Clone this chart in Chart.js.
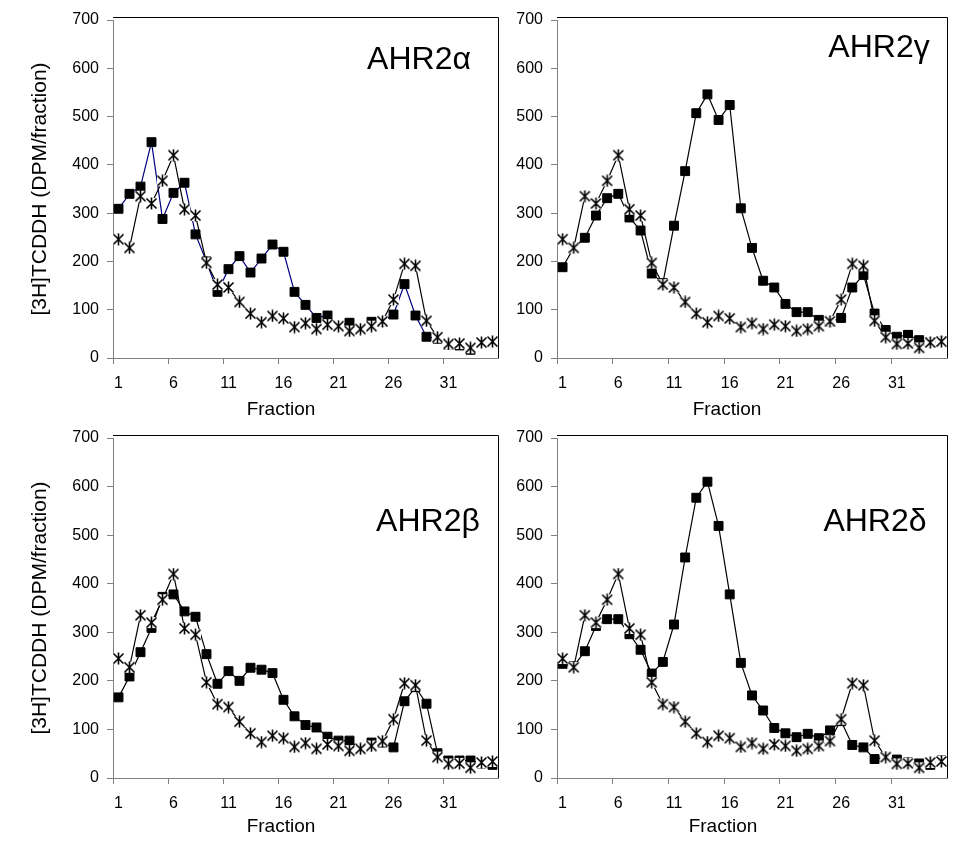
<!DOCTYPE html>
<html>
<head>
<meta charset="utf-8">
<script src="https://cdn.jsdelivr.net/npm/chart.js@4.4.1/dist/chart.umd.min.js"></script>
<style>
  html, body { margin: 0; padding: 0; background: #fff; }
  #page { position: relative; width: 960px; height: 853px; overflow: hidden; font-family: 'Liberation Sans', Arial, sans-serif; }
  canvas { position: absolute; }
  .lbl { position: absolute; transform: translate(-50%, -50%); white-space: nowrap; color: #000; }
  .panel { font-size: 32px; }
  .xt { font-size: 19px; }
</style>
</head>
<body>
<div id="page">
  <canvas id="cA" width="520" height="430" style="left:0;top:0"></canvas>
  <canvas id="cG" width="480" height="430" style="left:480px;top:0"></canvas>
  <canvas id="cB" width="520" height="430" style="left:0;top:420px"></canvas>
  <canvas id="cD" width="480" height="430" style="left:480px;top:420px"></canvas>

  <div class="lbl panel" style="left:419px;top:58px">AHR2α</div>
  <div class="lbl panel" style="left:879px;top:46px">AHR2γ</div>
  <div class="lbl panel" style="left:428px;top:520px">AHR2β</div>
  <div class="lbl panel" style="left:875px;top:520px">AHR2δ</div>

  <div class="lbl xt" style="left:281px;top:409px">Fraction</div>
  <div class="lbl xt" style="left:727px;top:409px">Fraction</div>
  <div class="lbl xt" style="left:281px;top:826px">Fraction</div>
  <div class="lbl xt" style="left:723px;top:826px">Fraction</div>
</div>
<script>
// fractions 1..35
const fractions = ['1','2','3','4','5','6','7','8','9','10','11','12','13','14','15','16','17','18',
  '19','20','21','22','23','24','25','26','27','28','29','30','31','32','33','34','35'];
const yTicks = [0, 100, 200, 300, 400, 500, 600, 700];

// asterisk series, same in every panel
const controlDPM = [246, 228, 335, 320, 367, 420, 308, 295, 197, 152, 146, 116, 92, 74, 87, 82, 64, 72,
  60, 69, 66, 56, 60, 66, 76, 121, 195, 191, 77, 43, 29, 30, 21, 32, 34];

// square series per isoform
const ahr2a = [309, 340, 355, 447, 288, 342, 363, 256, 200, 137, 184, 211, 177, 206, 235, 220, 137, 110,
  83, 88, 66, 73, 60, 75, 75, 90, 153, 88, 44, 40, 28, 26, 17, 31, 33];
const ahr2g = [188, 228, 249, 295, 331, 340, 291, 264, 175, 155, 274, 387, 507, 546, 493, 524, 310, 228,
  160, 146, 112, 95, 95, 79, 75, 83, 146, 172, 92, 58, 44, 48, 37, 33, 35];
const ahr2b = [166, 209, 259, 309, 373, 378, 343, 332, 255, 194, 220, 200, 227, 223, 216, 161, 127, 109,
  104, 85, 77, 77, 60, 73, 73, 63, 158, 187, 153, 51, 36, 36, 36, 30, 27];
const ahr2d = [235, 230, 261, 313, 327, 327, 296, 264, 215, 239, 316, 454, 577, 610, 519, 378, 237, 170,
  139, 103, 92, 84, 91, 82, 98, 117, 68, 63, 39, 43, 38, 32, 30, 27, 36];

const FONT = "'Liberation Sans', Arial, sans-serif";
const AXIS = '#808080';

// excel-like asterisk marker: white box with X and a vertical bar
function makeAsterisk() {
  const c = document.createElement('canvas');
  c.width = 13; c.height = 13;
  const g = c.getContext('2d');
  g.fillStyle = '#fff';
  g.fillRect(1, 1, 11, 11);
  g.strokeStyle = '#000';
  g.lineWidth = 1.6;
  g.beginPath();
  g.moveTo(1.5, 1.5); g.lineTo(11.5, 11.5);
  g.moveTo(11.5, 1.5); g.lineTo(1.5, 11.5);
  g.moveTo(6.5, 0.5); g.lineTo(6.5, 12.5);
  g.stroke();
  return c;
}
const asterisk = makeAsterisk();

// top and right border of the plot area
const framePlugin = {
  id: 'frame',
  afterDraw(chart) {
    const { ctx, chartArea: a } = chart;
    ctx.save();
    ctx.strokeStyle = '#000';
    ctx.lineWidth = 1;
    ctx.beginPath();
    ctx.moveTo(a.left, a.top - 2.5);
    ctx.lineTo(Math.round(a.right) + 0.5, a.top - 2.5);
    ctx.lineTo(Math.round(a.right) + 0.5, a.bottom);
    ctx.stroke();
    ctx.restore();
  }
};

function makePanel(id, squares, lineColor, yWidth, yTitle, pad) {
  new Chart(document.getElementById(id), {
    type: 'line',
    data: {
      labels: fractions,
      datasets: [
        {
          data: controlDPM, borderColor: '#000', borderWidth: 1.2,
          pointStyle: asterisk, pointRadius: 6, pointHoverRadius: 6, tension: 0
        },
        {
          data: squares, borderColor: lineColor, borderWidth: 1.2,
          pointStyle: 'rect', pointRadius: 6.3, pointHoverRadius: 6.3,
          pointBackgroundColor: '#000', pointBorderColor: '#000', pointBorderWidth: 1, tension: 0
        }
      ]
    },
    options: {
      responsive: false, animation: false, devicePixelRatio: 1,
      layout: { padding: pad },
      plugins: { legend: { display: false }, tooltip: { enabled: false } },
      scales: {
        x: {
          type: 'category', offset: true,
          grid: {
            offset: true, drawOnChartArea: false, tickLength: 6,
            color: c => (c.index % 5 === 0 && c.index < 35 ? AXIS : 'rgba(0,0,0,0)')
          },
          border: { color: AXIS, width: 1 },
          ticks: {
            autoSkip: false, maxRotation: 0, minRotation: 0, padding: 10, color: '#000',
            font: { family: FONT, size: 16 },
            callback: (v, i) => (i % 5 === 0 ? fractions[i] : '')
          },
          afterFit: s => { s.height = 72; }
        },
        y: {
          min: 0, max: 700,
          afterBuildTicks: s => { s.ticks = yTicks.map(v => ({ value: v })); },
          grid: { drawOnChartArea: false, tickLength: 6, color: AXIS },
          border: { color: AXIS, width: 1 },
          ticks: { padding: 8, color: '#000', font: { family: FONT, size: 16 } },
          title: {
            display: !!yTitle, text: yTitle, color: '#000',
            font: { family: FONT, size: 21 }, padding: { top: 28, bottom: 0 }
          },
          afterFit: s => { s.width = yWidth; }
        }
      }
    },
    plugins: [framePlugin]
  });
}

const Y_TITLE = '[3H]TCDDH (DPM/fraction)';
makePanel('cA', ahr2a, '#000080', 113, Y_TITLE, { top: 20, right: 22, left: 0, bottom: 0 });
makePanel('cG', ahr2g, '#000', 77, '', { top: 20, right: 13, left: 0, bottom: 0 });
makePanel('cB', ahr2b, '#000', 113, Y_TITLE, { top: 18, right: 22, left: 0, bottom: 0 });
makePanel('cD', ahr2d, '#000', 77, '', { top: 18, right: 13, left: 0, bottom: 0 });
</script>
</body>
</html>
